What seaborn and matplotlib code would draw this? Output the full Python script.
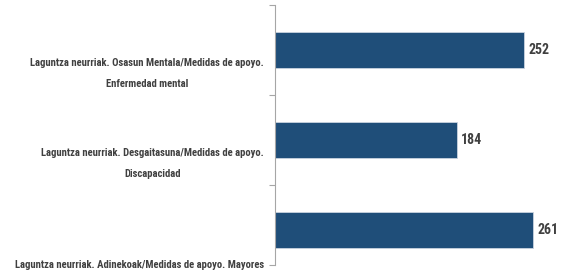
import matplotlib
matplotlib.use("Agg")
import matplotlib.pyplot as plt
import seaborn as sns
import pandas as pd
from matplotlib import font_manager

sns.set_theme(style="white")
names = {f.name for f in font_manager.fontManager.ttflist}
candidates = ['Liberation Sans Narrow', 'DejaVu Sans Condensed', 'Roboto Condensed',
              'Open Sans Condensed', 'Roboto', 'DejaVu Sans']
narrow = next(c for c in candidates if c in names or c == 'DejaVu Sans')
plt.rcParams['font.family'] = [narrow, 'DejaVu Sans']

# data
categories = [
    "Laguntza neurriak. Osasun Mentala/Medidas de apoyo.\nEnfermedad mental",
    "Laguntza neurriak. Desgaitasuna/Medidas de apoyo.\nDiscapacidad",
    "Laguntza neurriak. Adinekoak/Medidas de apoyo. Mayores",
]
values = [252, 184, 261]
label_offsets = [0.26, 0.26, 0.39]

df = pd.DataFrame({'cat': range(len(categories)), 'val': values})

fig = plt.figure(figsize=(5.67, 2.78), dpi=100)
ax = fig.add_axes([275 / 567, 13 / 278, 292 / 567, 260 / 278])

sns.barplot(data=df, x='val', y='cat', orient='h', color='#1F4E79',
            width=0.4, edgecolor='#c9d3df', linewidth=0.6, ax=ax, saturation=1)

ax.set_xlim(0, 295)
ax.set_ylim(2.39, -0.5)
ax.set_xlabel("")
ax.set_ylabel("")
ax.set_xticks([])
ax.set_yticks([-0.5, 0.5, 1.5, 2.39])
ax.set_yticklabels([])
ax.tick_params(axis='y', direction='out', length=4, width=0.8, color='#a6a6a6', left=True)
for s in ['top', 'right', 'bottom']:
    ax.spines[s].set_visible(False)
ax.spines['left'].set_color('#a6a6a6')
ax.spines['left'].set_linewidth(0.8)

renderer = fig.canvas.get_renderer()

# value labels, sized so "252" is about 21 px wide
probe = fig.text(0, 0, "252", fontsize=10, fontweight='bold')
w = probe.get_window_extent(renderer).width
probe.remove()
vsize = min(12.5, 10 * 21 / w)
for i, v in enumerate(values):
    ax.text(v + 4, i, str(v), va='center', ha='left', fontsize=vsize,
            fontweight='bold', color='#404040')

# category labels, sized so the longest line is about 252 px wide
probe = fig.text(0, 0, categories[2], fontsize=10, fontweight='bold')
w = probe.get_window_extent(renderer).width
probe.remove()
lsize = min(8, 10 * 252 / w)
for i, c in enumerate(categories):
    ax.annotate(c, xy=(0, i + label_offsets[i]), xycoords=('axes fraction', 'data'),
                xytext=(-8, 0), textcoords='offset points', ha='right', va='center',
                multialignment='center', fontsize=lsize, fontweight='bold',
                color='#404040', linespacing=2.3, annotation_clip=False)

fig.savefig("out.png", dpi=100)
